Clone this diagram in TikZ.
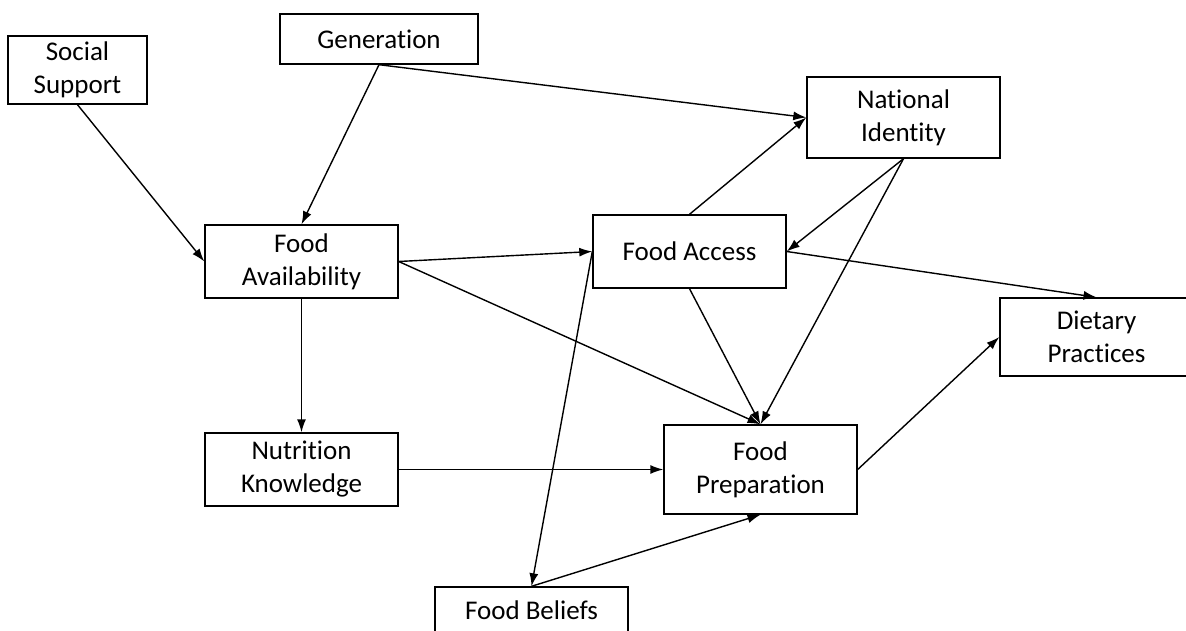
\documentclass[tikz,border=0pt]{standalone}
\usepackage{fontspec}
\setmainfont{Carlito}[RawFeature={-liga;-clig}]
\usetikzlibrary{arrows.meta}
\begin{document}
\begin{tikzpicture}[x=1pt,y=-1pt,
  box/.style={draw,line width=1.4pt,inner sep=0pt,align=center,
    font=\fontsize{27}{33}\selectfont},
  conn/.style={line width=1.4pt,-{Latex[length=13pt,width=9pt]}}]
\useasboundingbox (0,0) rectangle (1186,631);
\node[box,minimum width=139pt,minimum height=68pt] (ss) at (77.5,70) {Social\\Support};
\node[box,minimum width=198pt,minimum height=50pt] (gen) at (379,39) {Generation};
\node[box,minimum width=193pt,minimum height=73pt] (fa) at (301.5,261.5) {Food\\Availability};
\node[box,minimum width=193pt,minimum height=81pt] (ni) at (903.5,117.5) {National\\Identity};
\node[box,minimum width=193pt,minimum height=73pt] (fac) at (689.5,251.5) {Food Access};
\node[box,minimum width=193pt,minimum height=78pt] (dp) at (1096.5,337) {Dietary\\Practices};
\node[box,minimum width=193pt,minimum height=73pt] (nk) at (301.5,469.5) {Nutrition\\Knowledge};
\node[box,minimum width=193pt,minimum height=89pt] (fp) at (760.5,469.5) {Food\\Preparation};
\node[box,minimum width=193pt,minimum height=46pt] (fb) at (531.5,610) {Food Beliefs};
\draw[conn] (ss.south) -- (fa.west);
\draw[conn] (gen.south) -- (fa.north);
\draw[conn] (gen.south) -- (ni.west);
\draw[conn] (fa.east) -- (fac.west);
\draw[conn] (fa.east) -- (fp.north);
\draw[conn] (fa.south) -- (nk.north);
\draw[conn] (nk.east) -- (fp.west);
\draw[conn] (fac.north) -- (ni.west);
\draw[conn] (ni.south) -- (fac.east);
\draw[conn] (ni.south) -- (fp.north);
\draw[conn] (fac.south) -- (fp.north);
\draw[conn] (fac.east) -- (dp.north);
\draw[conn] (fp.east) -- (dp.west);
\draw[conn] (fac.west) -- (fb.north);
\draw[conn] (fb.north) -- (fp.south);
\end{tikzpicture}
\end{document}
